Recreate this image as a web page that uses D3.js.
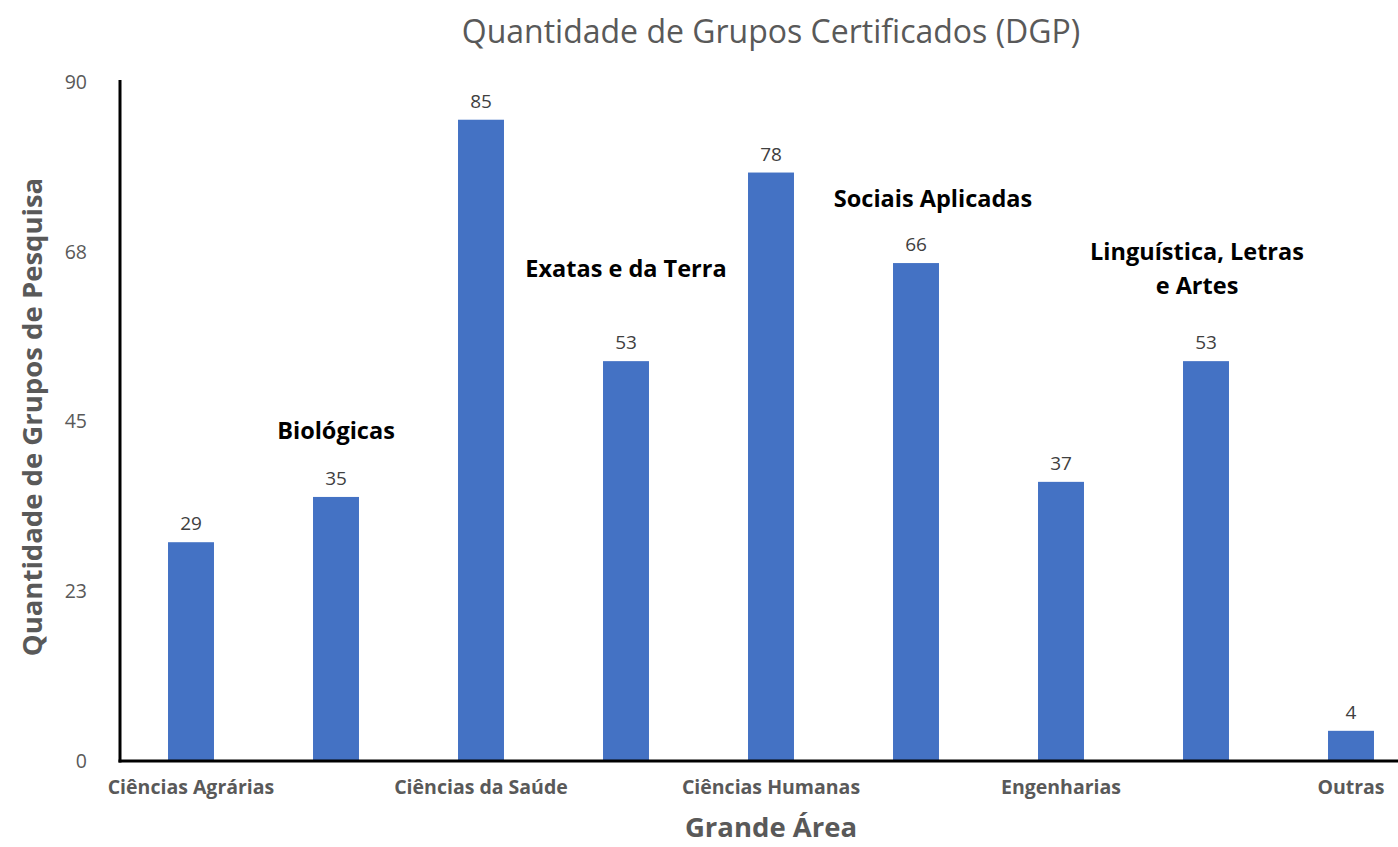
<!DOCTYPE html>
<html>
<head>
<meta charset="utf-8">
<script src="https://cdn.jsdelivr.net/npm/d3@7"></script>
<style>
  body { margin: 0; background: #fff; }
  svg { font-family: "Open Sans", Lato, sans-serif; }
</style>
</head>
<body>
<svg class="bar-chart"></svg>
<script>
const width = 1398;
const height = 847;

// Data
const categories = [
    'Ciências Agrárias', 'Biológicas', 'Ciências da Saúde', 'Exatas e da Terra',
    'Ciências Humanas', 'Sociais Aplicadas', 'Engenharias',
    'Linguística, Letras e Artes', 'Outras'
];
const values = [29, 35, 85, 53, 78, 66, 37, 53, 4];
const axisLabelled = [true, false, true, false, true, false, true, false, true];
const annotationLines = [null, ['Biológicas'], null, ['Exatas e da Terra'], null,
    ['Sociais Aplicadas'], null, ['Linguística, Letras', 'e Artes'], null];
const tickValues = [0, 22.5, 45, 67.5, 90];
const tickLabels = ['0', '23', '45', '68', '90'];

// Layout (offsets for annotations above bar tops)
const annotationOffset = [0, 66, 0, 92, 0, 64, 0, 109, 0];
const annotationShift = [0, 0, 0, 0, 0, 17, 0, -9, 0];

const svg = d3.select('.bar-chart')
    .attr('width', width)
    .attr('height', height);

// Title
svg.append('text')
    .attr('x', 771)
    .attr('y', 43)
    .attr('text-anchor', 'middle')
    .attr('font-size', 32)
    .attr('fill', '#595959')
    .text('Quantidade de Grupos Certificados (DGP)');

// Scales
const xScale = d3.scaleBand()
    .domain(categories)
    .range([118.5, 1423.5])
    .paddingInner(0.683)
    .paddingOuter(0.3415);

const yScale = d3.scaleLinear()
    .domain([0, 90])
    .range([761, 82]);

// Y tick labels
svg.append('g')
    .selectAll('text')
    .data(tickValues).enter().append('text')
    .attr('x', 87)
    .attr('y', d => yScale(d))
    .attr('dy', '0.35em')
    .attr('text-anchor', 'end')
    .attr('font-size', 19.5)
    .attr('fill', '#595959')
    .text((d, i) => tickLabels[i]);

// Bars
svg.append('g')
    .selectAll('rect')
    .data(values).enter().append('rect')
    .attr('x', (d, i) => xScale(categories[i]))
    .attr('y', d => yScale(d))
    .attr('width', xScale.bandwidth())
    .attr('height', d => yScale(0) - yScale(d))
    .attr('fill', '#4472C4');

// Value labels
svg.append('g')
    .selectAll('text')
    .data(values).enter().append('text')
    .attr('x', (d, i) => xScale(categories[i]) + xScale.bandwidth() / 2)
    .attr('y', d => yScale(d) - 12)
    .attr('text-anchor', 'middle')
    .attr('font-size', 19)
    .attr('fill', '#404040')
    .text(d => d);

// Annotations for the unlabelled categories
categories.forEach((c, i) => {
    if (!annotationLines[i]) return;
    const t = svg.append('text')
        .attr('text-anchor', 'middle')
        .attr('font-size', 23.5)
        .attr('font-weight', 'bold')
        .attr('fill', '#000');
    const cx = xScale(c) + xScale.bandwidth() / 2 + annotationShift[i];
    annotationLines[i].forEach((line, j) => {
        t.append('tspan')
            .attr('x', cx)
            .attr('y', yScale(values[i]) - annotationOffset[i] + 8 + j * 34)
            .text(line);
    });
});

// Axis lines
svg.append('line')
    .attr('x1', 120).attr('x2', 120)
    .attr('y1', 80).attr('y2', 762.5)
    .attr('stroke', '#000')
    .attr('stroke-width', 3);

svg.append('line')
    .attr('x1', 118.5).attr('x2', width)
    .attr('y1', 761).attr('y2', 761)
    .attr('stroke', '#000')
    .attr('stroke-width', 3);

// X category labels
svg.append('g')
    .selectAll('text')
    .data(categories.filter((c, i) => axisLabelled[i])).enter().append('text')
    .attr('x', d => xScale(d) + xScale.bandwidth() / 2)
    .attr('y', 794)
    .attr('text-anchor', 'middle')
    .attr('font-size', 19.5)
    .attr('font-weight', 'bold')
    .attr('fill', '#595959')
    .text(d => d);

// Axis titles
svg.append('text')
    .attr('x', 771)
    .attr('y', 837)
    .attr('text-anchor', 'middle')
    .attr('font-size', 27.5)
    .attr('font-weight', 'bold')
    .attr('fill', '#595959')
    .text('Grande Área');

svg.append('text')
    .attr('transform', 'translate(42,417) rotate(-90)')
    .attr('text-anchor', 'middle')
    .attr('font-size', 27.5)
    .attr('font-weight', 'bold')
    .attr('fill', '#595959')
    .text('Quantidade de Grupos de Pesquisa');
</script>
</body>
</html>
